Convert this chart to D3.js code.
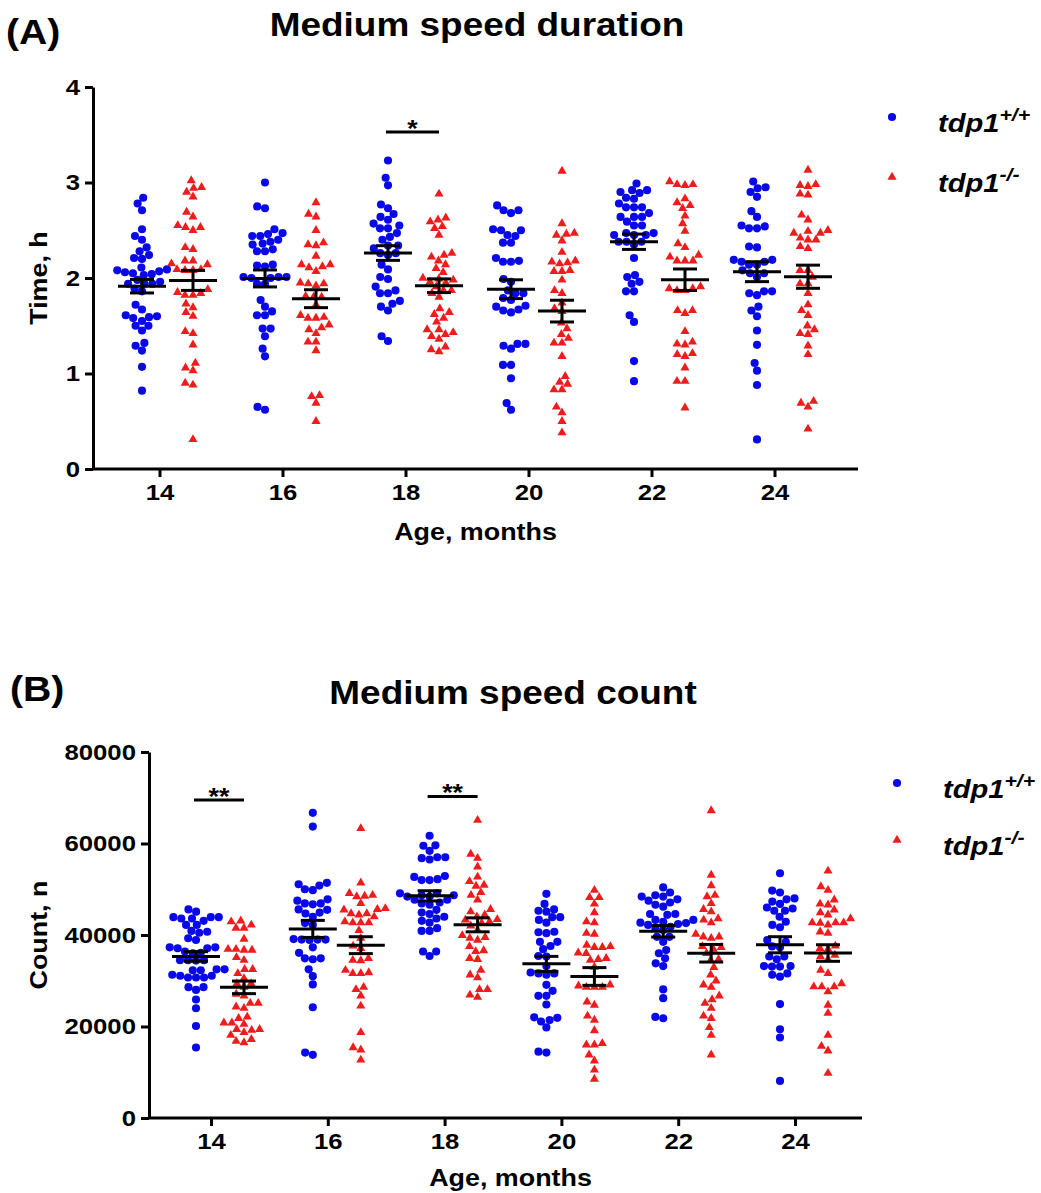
<!DOCTYPE html>
<html lang="en">
<head>
<meta charset="UTF-8">
<title>Medium speed duration and count</title>
<script src="https://d3js.org/d3.v7.min.js"></script>
<style>
  body { margin: 0; background: #fff; }
  svg text { font-family: "Liberation Sans", Arial, sans-serif; font-weight: bold; fill: #000; }
</style>
</head>
<body>
<svg width="1041" height="1193"></svg>
<script>
const ages = [14, 16, 18, 20, 22, 24];

// Medium speed duration (h), one list per age
const durWT = [
  [2.84,2.78,2.71,2.51,2.44,2.40,2.32,2.28,2.24,2.20,2.21,2.09,2.07,2.05,2.03,2.04,2.06,2.08,2.11,1.96,1.94,1.98,1.94,1.94,1.89,1.86,1.72,1.67,1.60,1.58,1.59,1.61,1.55,1.50,1.45,1.50,1.32,1.24,1.29,1.07,0.82],
  [3.00,2.75,2.73,2.51,2.46,2.44,2.44,2.47,2.38,2.35,2.28,2.28,2.30,2.36,2.40,2.14,2.13,2.12,2.01,2.01,2.00,2.01,2.00,1.94,1.94,1.77,1.70,1.65,1.61,1.61,1.47,1.47,1.39,1.26,1.18,0.62,0.65],
  [3.23,3.05,2.97,2.77,2.73,2.64,2.67,2.61,2.57,2.52,2.55,2.52,2.47,2.43,2.40,2.34,2.34,2.31,2.26,2.24,2.26,2.14,2.09,2.01,1.99,1.87,1.84,1.84,1.91,1.76,1.70,1.66,1.73,1.34,1.39],
  [2.71,2.68,2.71,2.76,2.50,2.50,2.51,2.44,2.37,2.37,2.45,2.21,2.17,2.17,2.18,1.99,1.96,1.84,1.79,1.77,1.84,1.87,1.71,1.67,1.64,1.66,1.70,1.31,1.29,1.26,1.31,1.09,1.09,0.95,0.62,0.69],
  [2.99,2.90,2.92,2.92,2.89,2.84,2.83,2.78,2.74,2.74,2.74,2.68,2.64,2.64,2.64,2.59,2.55,2.55,2.47,2.45,2.45,2.45,2.47,2.38,2.35,2.38,2.38,2.21,2.01,2.03,1.96,1.94,1.86,1.86,1.61,1.54,1.13,0.92],
  [3.01,2.94,2.90,2.95,2.85,2.70,2.64,2.54,2.52,2.52,2.55,2.33,2.32,2.19,2.17,2.17,2.19,2.08,2.14,2.14,2.05,2.05,2.01,1.86,1.82,1.84,1.86,1.66,1.60,1.70,1.45,1.30,1.03,1.11,0.88,0.31]
];
const durKO = [
  [3.02,2.94,2.95,2.90,2.85,2.69,2.64,2.53,2.50,2.53,2.55,2.32,2.30,2.18,2.14,2.15,2.18,2.09,2.08,2.08,2.09,1.82,1.85,1.88,1.82,1.84,1.73,1.69,1.64,1.60,1.42,1.44,1.30,1.11,1.03,1.06,0.90,0.88,0.31],
  [2.79,2.67,2.64,2.50,2.35,2.37,2.34,2.23,2.14,2.12,2.14,2.11,2.07,1.94,1.94,1.92,1.95,1.80,1.81,1.80,1.72,1.61,1.58,1.59,1.58,1.51,1.46,1.42,1.48,1.33,1.24,1.33,0.76,0.69,0.77,0.50],
  [2.88,2.61,2.54,2.59,2.52,2.63,2.45,2.26,2.24,2.22,2.18,2.10,2.14,2.06,1.98,1.99,1.96,2.00,1.91,1.84,1.80,1.87,1.95,1.87,1.68,1.62,1.54,1.58,1.64,1.46,1.41,1.39,1.43,1.46,1.36,1.28,1.23,1.25],
  [3.12,2.57,2.46,2.45,2.47,2.39,2.27,2.16,2.17,2.18,2.15,2.08,2.07,2.07,1.98,1.84,1.87,1.68,1.65,1.74,1.47,1.53,1.41,1.32,1.32,1.37,1.18,0.97,0.89,0.83,0.83,0.91,0.65,0.59,0.50,0.38],
  [2.98,2.97,2.98,3.01,2.83,2.76,2.79,2.73,2.65,2.57,2.49,2.36,2.32,2.22,2.18,2.18,2.18,2.24,1.89,1.87,1.87,1.89,1.91,1.66,1.63,1.66,1.44,1.31,1.33,1.30,1.20,1.18,1.21,1.06,0.92,0.92,0.64],
  [3.13,2.98,2.96,2.97,2.87,2.88,2.66,2.61,2.49,2.47,2.47,2.50,2.40,2.33,2.31,2.40,2.42,2.08,2.01,2.08,1.94,1.84,1.94,1.72,1.61,1.66,1.50,1.42,1.41,1.46,1.29,1.20,0.69,0.65,0.71,0.42]
];

// Medium speed count (n), one list per age
const cntWT = [
  [45600,45100,43900,43900,43600,43100,43600,43900,42200,42200,40700,40500,40900,39300,38900,37300,37100,37300,37100,36000,36100,36400,34500,34500,34400,34500,32300,32300,32500,32500,31100,30700,30700,30700,31100,31300,28600,28600,28000,25900,24000,20100,15400],
  [66700,63700,51100,50000,49800,50800,51400,47800,46900,46700,46900,47500,44900,44000,44700,45500,45600,42600,42200,39100,39000,38900,39000,39000,36100,37300,34900,34700,34900,32500,31000,29200,24200,13800,14300],
  [61700,59500,58400,59600,57000,56800,56500,57000,52900,52200,52700,52000,52000,49100,48700,48400,48400,48700,49100,46900,46600,47100,47700,47700,44900,44000,44600,45500,42700,43600,43100,40900,40900,41500,36400,35400,36400],
  [49000,45100,45600,45300,46800,43900,42700,43300,43900,40600,40400,40700,38500,36900,37600,38500,35400,35300,33200,31600,31300,31600,31800,29100,26700,27800,26700,24800,21900,21100,19800,21400,22000,14300,14500],
  [50400,48700,48400,47500,47100,47800,48400,49300,46600,46200,44600,44400,44600,43300,42700,42600,42400,42900,43300,42200,41500,41100,41800,39600,39600,38500,36700,36000,34900,33800,33200,28100,26200,21800,22100],
  [53500,49700,49300,47800,46800,47300,48000,45800,45300,44000,45300,46000,42900,41700,42200,38900,38500,37500,37300,34700,35300,35300,33100,33200,33200,33100,31300,30900,31600,24900,19400,17600,8100]
];
const cntKO = [
  [43100,42900,41500,42200,41500,39100,36900,36700,36700,36900,34500,35100,32500,32500,30500,31600,29400,29400,28600,27100,26700,25100,25100,24300,24000,21800,22100,20500,20800,20800,18700,19400,19200,19400,18100,17200,16500,16800],
  [63300,51400,48400,48500,49100,45500,45600,45800,44700,44400,42700,42700,42700,42900,37600,37100,34400,34500,31800,31600,32300,28100,28600,26700,24500,18700,15400,14900,12700,48700,46900,44700,44000,39300,41000,34900,31600],
  [65100,57700,56800,54900,52700,50900,50700,51700,49300,47700,48700,45100,44000,44400,45600,42600,43300,43400,42900,42000,39300,38900,41100,39500,39900,36400,37500,36600,34700,34900,32300,31300,30700,28100,26400,26900,28100],
  [48200,49800,48200,42900,42700,44900,40200,40400,37300,37300,36000,37500,37800,34700,34900,34500,28900,28600,28600,28600,25400,24700,22300,21400,19100,16300,16000,16000,13800,12500,10500,8500,46800,36100,29100,33000],
  [67200,53100,50800,48700,48400,46900,45100,45600,43600,43300,42700,39600,39600,40200,39300,37500,36000,37300,36900,34700,34500,32900,31300,30000,28600,29100,25900,24000,25100,26700,21800,22300,19800,18100,13800],
  [54000,50600,49800,47700,46600,46800,45500,44400,43600,44900,42700,42700,42200,42600,42700,40400,40700,37600,37100,36900,34700,35600,35300,32300,31600,28700,29400,27600,28700,28700,24700,22900,18100,15700,14700,9800]
];

const durTicks = [0, 1, 2, 3, 4];
const cntTicks = [0, 20000, 40000, 60000, 80000];
const durSig = [{ age: 18, v: 3.53, label: "*" }];
const cntSig = [{ age: 14, v: 69500, label: "**" }, { age: 18, v: 70300, label: "**" }];

const BLUE = "#0808e8", RED = "#ee1c1c";
const SX = 1.12; // the source text is a little wide
const svg = d3.select("svg");

function addText(parent, x, y, str, size, anchor, rot) {
  return parent.append("text")
    .attr("transform", `translate(${x},${y}) rotate(${rot || 0}) scale(${SX},1)`)
    .attr("text-anchor", anchor || "middle")
    .attr("font-size", size)
    .text(str);
}

// simple beeswarm: each point goes to the free spot closest to the centre
function swarm(vals, y, d) {
  const order = vals.map((v, i) => i).sort((a, b) => vals[a] - vals[b]);
  const placed = [], out = [];
  order.forEach(i => {
    const py = y(vals[i]);
    const blocked = [];
    placed.forEach(p => {
      const dy = Math.abs(p.y - py);
      if (dy < d) {
        const dx = Math.sqrt(d * d - dy * dy);
        blocked.push([p.x - dx, p.x + dx]);
      }
    });
    const cands = [0];
    blocked.forEach(b => cands.push(b[0], b[1]));
    cands.sort((a, b) => Math.abs(a) - Math.abs(b) || a - b);
    const px = cands.find(c => blocked.every(b => c <= b[0] + 1e-6 || c >= b[1] - 1e-6));
    placed.push({ x: px, y: py });
    out[i] = { v: vals[i], dx: px };
  });
  return out;
}

function panel(o) {
  const g = svg.append("g");
  const y = d3.scaleLinear().domain([0, o.yTicks[o.yTicks.length - 1]]).range([o.bottom, o.top]);
  const x = d3.scaleLinear().domain([ages[0], ages[ages.length - 1]]).range(o.xr);

  const yAxis = g.append("g")
    .attr("transform", `translate(${o.left},0)`)
    .call(d3.axisLeft(y).tickValues(o.yTicks).tickFormat(d3.format("d")).tickSize(8).tickSizeOuter(0).tickPadding(5));
  const xAxis = g.append("g")
    .attr("transform", `translate(0,${o.bottom})`)
    .call(d3.axisBottom(x).tickValues(ages).tickSize(8).tickSizeOuter(0).tickPadding(7));
  xAxis.select(".domain").remove();
  g.append("line")
    .attr("x1", o.left).attr("x2", o.right)
    .attr("y1", o.bottom).attr("y2", o.bottom)
    .attr("stroke", "#000").attr("stroke-width", 3);
  [yAxis, xAxis].forEach(a => {
    a.attr("font-size", 23).attr("font-family", null);
    a.selectAll("line, path").attr("stroke-width", 3);
    a.selectAll("text").attr("transform", `scale(${SX},1)`);
  });
  yAxis.selectAll("text").attr("x", -13 / SX);

  const groups = [
    { data: o.wt, off: o.offWT, color: BLUE, sym: d3.symbolCircle, size: 52 },
    { data: o.ko, off: o.offKO, color: RED, sym: d3.symbolTriangle, size: 36 }
  ];
  groups.forEach(gr => {
    gr.data.forEach((vals, i) => {
      const cx = x(ages[i]) + gr.off;
      const pts = swarm(vals, y, 8);
      g.append("g").selectAll("path")
        .data(pts)
        .join("path")
        .attr("d", d3.symbol(gr.sym, gr.size))
        .attr("transform", p => `translate(${cx + p.dx},${y(p.v)})`)
        .attr("fill", gr.color);
    });
  });

  // mean and SEM on top of the points
  groups.forEach(gr => {
    gr.data.forEach((vals, i) => {
      const cx = x(ages[i]) + gr.off;
      const m = d3.mean(vals), se = d3.deviation(vals) / Math.sqrt(vals.length);
      const e = g.append("g").attr("stroke", "#000").attr("stroke-width", 3);
      e.append("line").attr("x1", cx - 24).attr("x2", cx + 24).attr("y1", y(m)).attr("y2", y(m));
      e.append("line").attr("x1", cx).attr("x2", cx).attr("y1", y(m - se)).attr("y2", y(m + se));
      [m - se, m + se].forEach(v => e.append("line")
        .attr("x1", cx - 12).attr("x2", cx + 12).attr("y1", y(v)).attr("y2", y(v)));
    });
  });

  // significance bars
  o.sig.forEach(s => {
    const x1 = x(s.age) + o.offWT - 2, x2 = x(s.age) + o.offKO;
    g.append("line").attr("x1", x1).attr("x2", x2).attr("y1", y(s.v)).attr("y2", y(s.v))
      .attr("stroke", "#000").attr("stroke-width", 3);
    addText(g, (x1 + x2) / 2, y(s.v) + 5, s.label, 24);
  });

  // titles
  addText(g, o.titleX, o.titleY, o.title, 33);
  addText(g, o.tagX, o.tagY, o.tag, 35, "start");
  addText(g, (o.left + o.right) / 2 + o.xLabDx, o.xLabY, "Age, months", 24);
  addText(g, 47, (o.top + o.bottom) / 2, o.yLabel, 24, "middle", -90);

  // legend
  const lg = g.append("g");
  const rows = [
    { sym: d3.symbolCircle, size: 52, color: BLUE, sup: "+/+" },
    { sym: d3.symbolTriangle, size: 36, color: RED, sup: "-/-" }
  ];
  rows.forEach((r, i) => {
    const ly = o.legY + i * o.legStep;
    lg.append("path").attr("d", d3.symbol(r.sym, r.size))
      .attr("transform", `translate(${o.legX},${ly})`).attr("fill", r.color);
    const t = lg.append("text")
      .attr("transform", `translate(${o.legX + 46},${ly + 15}) scale(${SX},1)`)
      .attr("font-size", 26).attr("font-style", "italic");
    t.append("tspan").text("tdp1");
    t.append("tspan").attr("font-size", 19).attr("dy", -11).text(r.sup);
  });
}

panel({
  wt: durWT, ko: durKO, yTicks: durTicks, sig: durSig,
  left: 93, right: 858, top: 87, bottom: 469, xr: [159.5, 774.5], offWT: -17.5, offKO: 33.5,
  title: "Medium speed duration", titleX: 477, titleY: 36, tag: "(A)", tagX: 6, tagY: 44,
  xLabY: 540, xLabDx: 0, yLabel: "Time, h", legX: 892, legY: 117, legStep: 60
});
panel({
  wt: cntWT, ko: cntKO, yTicks: cntTicks, sig: cntSig,
  left: 149, right: 862, top: 752, bottom: 1118, xr: [211, 795], offWT: -15, offKO: 33,
  title: "Medium speed count", titleX: 513, titleY: 704, tag: "(B)", tagX: 10, tagY: 701,
  xLabY: 1186, xLabDx: 5, yLabel: "Count, n", legX: 897, legY: 783, legStep: 57
});
</script>
</body>
</html>
